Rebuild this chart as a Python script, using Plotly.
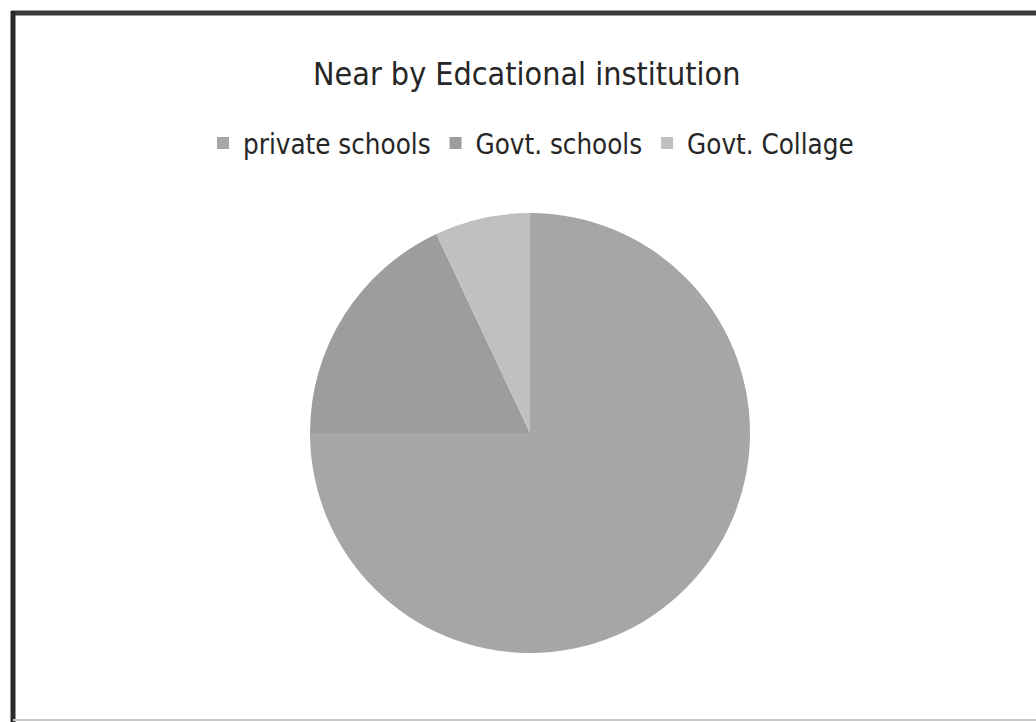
import plotly.graph_objects as go

categories = ["private schools", "Govt. schools", "Govt. Collage"]
values = [75, 18, 7]
colors = ["#a6a6a6", "#9d9d9d", "#c0c0c0"]
title_text = "Near by Edcational institution"

W, H = 1036, 722
FONT = "DejaVu Sans Condensed, Liberation Sans, sans-serif"

fig = go.Figure(go.Pie(
    labels=categories,
    values=values,
    sort=False,
    direction="clockwise",
    rotation=0,
    textinfo="none",
    hoverinfo="label+value",
    marker=dict(colors=colors, line=dict(width=0)),
    domain=dict(x=[310 / W, 750 / W], y=[1 - 653 / H, 1 - 213 / H]),
))

# chart frame (scanned border)
fig.add_shape(type="line", xref="paper", yref="paper",
              x0=11 / W, x1=1.0, y0=1 - 13 / H, y1=1 - 13 / H,
              line=dict(color="#3a3a3a", width=5))
fig.add_shape(type="line", xref="paper", yref="paper",
              x0=13 / W, x1=13 / W, y0=1 - 11 / H, y1=0.0,
              line=dict(color="#2a2a2a", width=5))
fig.add_shape(type="line", xref="paper", yref="paper",
              x0=13 / W, x1=1.0, y0=2 / H, y1=2 / H,
              line=dict(color="#c8c8c8", width=2))

fig.add_annotation(text=title_text, xref="paper", yref="paper",
                   x=526 / W, y=1 - 74 / H, xanchor="center", yanchor="middle",
                   showarrow=False, font=dict(family=FONT, size=32, color="#262626"))

fig.update_layout(
    width=W, height=H,
    margin=dict(l=0, r=0, t=0, b=0),
    paper_bgcolor="white",
    plot_bgcolor="white",
    showlegend=True,
    legend=dict(orientation="h", x=531 / W, xanchor="center",
                y=1 - 143 / H, yanchor="middle",
                font=dict(family=FONT, size=27.5, color="#262626"),
                itemsizing="constant", itemwidth=30,
                bgcolor="rgba(0,0,0,0)"),
)

fig.write_html("out.html",
               config={"displayModeBar": False},
               post_script="document.body.style.margin='0';document.body.style.overflow='hidden';")
